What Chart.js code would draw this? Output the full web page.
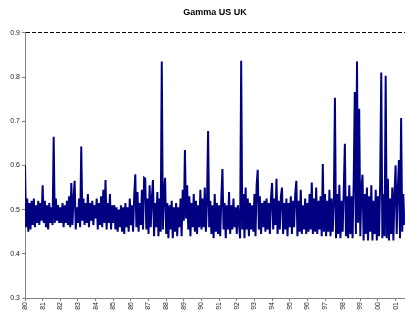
<!DOCTYPE html>
<html>
<head>
<meta charset="utf-8">
<script src="https://cdn.jsdelivr.net/npm/chart.js@4"></script>
<style>
  html, body { margin: 0; padding: 0; background: #fff; }
  #wrap { width: 405px; height: 322px; }
</style>
</head>
<body>
<div id="wrap"><canvas id="grafico"></canvas></div>
<script>
// gamma readings, 16 per year
const anos = [1980, 1981, 1982, 1983, 1984, 1985, 1986, 1987, 1988, 1989, 1990,
              1991, 1992, 1993, 1994, 1995, 1996, 1997, 1998, 1999, 2000, 2001];
const y1980 = [0.600, 0.460, 0.525, 0.450, 0.515, 0.455, 0.520, 0.465, 0.525, 0.460, 0.510, 0.470, 0.520, 0.465, 0.515, 0.475];
const y1981 = [0.555, 0.470, 0.520, 0.460, 0.510, 0.455, 0.515, 0.470, 0.505, 0.465, 0.665, 0.470, 0.525, 0.475, 0.510, 0.470];
const y1982 = [0.505, 0.470, 0.515, 0.460, 0.510, 0.470, 0.520, 0.465, 0.530, 0.460, 0.560, 0.465, 0.525, 0.565, 0.455, 0.505];
const y1983 = [0.470, 0.525, 0.460, 0.643, 0.475, 0.525, 0.465, 0.515, 0.470, 0.535, 0.460, 0.515, 0.475, 0.520, 0.465, 0.510];
const y1984 = [0.480, 0.525, 0.455, 0.515, 0.465, 0.530, 0.460, 0.545, 0.470, 0.567, 0.455, 0.515, 0.470, 0.535, 0.455, 0.510];
const y1985 = [0.470, 0.510, 0.455, 0.505, 0.450, 0.500, 0.460, 0.510, 0.450, 0.505, 0.445, 0.515, 0.460, 0.505, 0.450, 0.525];
const y1986 = [0.465, 0.510, 0.450, 0.530, 0.580, 0.460, 0.540, 0.450, 0.515, 0.465, 0.545, 0.455, 0.572, 0.570, 0.455, 0.525];
const y1987 = [0.445, 0.555, 0.460, 0.525, 0.567, 0.440, 0.515, 0.460, 0.540, 0.440, 0.525, 0.450, 0.835, 0.455, 0.535, 0.572];
const y1988 = [0.445, 0.515, 0.435, 0.510, 0.455, 0.520, 0.435, 0.505, 0.450, 0.515, 0.440, 0.505, 0.460, 0.525, 0.440, 0.545];
const y1989 = [0.475, 0.635, 0.480, 0.555, 0.455, 0.530, 0.440, 0.515, 0.460, 0.535, 0.450, 0.520, 0.445, 0.510, 0.460, 0.545];
const y1990 = [0.455, 0.525, 0.460, 0.550, 0.450, 0.515, 0.678, 0.460, 0.520, 0.445, 0.510, 0.435, 0.535, 0.450, 0.515, 0.445];
const y1991 = [0.510, 0.440, 0.525, 0.592, 0.455, 0.515, 0.435, 0.510, 0.455, 0.540, 0.445, 0.510, 0.455, 0.525, 0.460, 0.505];
const y1992 = [0.445, 0.510, 0.470, 0.435, 0.837, 0.455, 0.535, 0.435, 0.550, 0.455, 0.525, 0.440, 0.515, 0.455, 0.510, 0.450];
const y1993 = [0.535, 0.440, 0.555, 0.590, 0.455, 0.530, 0.445, 0.515, 0.460, 0.520, 0.450, 0.525, 0.455, 0.515, 0.445, 0.525];
const y1994 = [0.560, 0.455, 0.525, 0.465, 0.570, 0.445, 0.520, 0.455, 0.530, 0.550, 0.445, 0.515, 0.455, 0.525, 0.440, 0.515];
const y1995 = [0.460, 0.530, 0.445, 0.520, 0.460, 0.535, 0.565, 0.440, 0.520, 0.450, 0.545, 0.445, 0.510, 0.455, 0.525, 0.445];
const y1996 = [0.515, 0.450, 0.535, 0.455, 0.561, 0.445, 0.525, 0.450, 0.550, 0.445, 0.520, 0.455, 0.530, 0.440, 0.603, 0.450];
const y1997 = [0.535, 0.440, 0.520, 0.450, 0.545, 0.440, 0.525, 0.450, 0.515, 0.753, 0.435, 0.535, 0.445, 0.556, 0.435, 0.520];
const y1998 = [0.450, 0.545, 0.649, 0.440, 0.530, 0.435, 0.555, 0.445, 0.530, 0.435, 0.560, 0.766, 0.445, 0.835, 0.470, 0.728];
const y1999 = [0.440, 0.545, 0.579, 0.430, 0.535, 0.445, 0.550, 0.430, 0.530, 0.450, 0.555, 0.430, 0.520, 0.445, 0.545, 0.430];
const y2000 = [0.530, 0.440, 0.560, 0.810, 0.435, 0.535, 0.440, 0.803, 0.435, 0.570, 0.430, 0.525, 0.445, 0.550, 0.430, 0.535];
const y2001 = [0.600, 0.445, 0.545, 0.612, 0.435, 0.707, 0.450, 0.535, 0.465];
const porAno = [y1980, y1981, y1982, y1983, y1984, y1985, y1986, y1987, y1988, y1989, y1990,
                y1991, y1992, y1993, y1994, y1995, y1996, y1997, y1998, y1999, y2000, y2001];
const pontosPorAno = 16;
const yTicks = [0.3, 0.4, 0.5, 0.6, 0.7, 0.8, 0.9];

const serie = [];
porAno.forEach((vals, i) => {
  vals.forEach((v, j) => serie.push({ x: anos[i] + j / pontosPorAno, y: v }));
});

const fonte = 'Liberation Sans, Arial, sans-serif';

new Chart(document.getElementById('grafico'), {
  type: 'line',
  data: {
    datasets: [{
      data: serie,
      borderColor: '#000080',
      borderWidth: 2,
      pointRadius: 0,
      tension: 0,
      fill: false
    }]
  },
  options: {
    responsive: true,
    maintainAspectRatio: false,
    animation: false,
    layout: { padding: { left: 0, right: 0, top: 0, bottom: 0 } },
    plugins: {
      legend: { display: false },
      tooltip: { enabled: false },
      title: {
        display: true,
        fullSize: false,
        text: 'Gamma US UK',
        color: '#000',
        font: { family: fonte, size: 9, weight: 'bold' },
        padding: { top: 7, bottom: 15 }
      }
    },
    scales: {
      x: {
        type: 'linear',
        min: 1980,
        max: 2001.53,
        afterBuildTicks: axis => { axis.ticks = anos.map(a => ({ value: a })); },
        afterFit: axis => { axis.height = 24; },
        ticks: {
          autoSkip: false,
          minRotation: 90,
          maxRotation: 90,
          padding: 1,
          color: '#222',
          font: { family: fonte, size: 7 },
          callback: v => String(v).slice(2)
        },
        grid: { drawOnChartArea: false, tickLength: 3, tickColor: '#808080' },
        border: { color: '#808080', width: 1 }
      },
      y: {
        min: 0.3,
        max: 0.9,
        afterBuildTicks: axis => { axis.ticks = yTicks.map(v => ({ value: v })); },
        afterFit: axis => { axis.width = 25; },
        ticks: {
          padding: 2,
          color: '#222',
          font: { family: fonte, size: 7 },
          callback: v => v.toFixed(1)
        },
        grid: {
          tickLength: 3,
          tickColor: '#808080',
          color: ctx => (ctx.tick && Math.abs(ctx.tick.value - 0.9) < 1e-9) ? '#000' : 'rgba(0,0,0,0)',
          lineWidth: 1
        },
        border: { color: '#808080', width: 1, dash: [4, 2] }
      }
    }
  }
});
</script>
</body>
</html>
